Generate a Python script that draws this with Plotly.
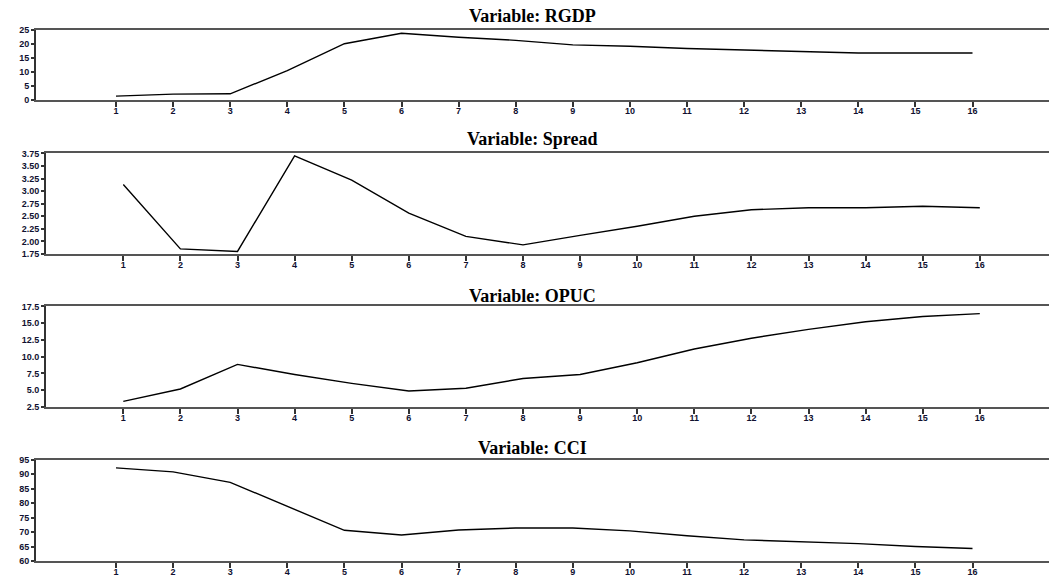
import plotly.graph_objects as go

steps = list(range(1, 17))

rgdp = [1.5, 2.2, 2.3, 10.5, 20.0, 23.7, 22.3, 21.2, 19.6, 19.1, 18.3, 17.7, 17.2, 16.7, 16.7, 16.7]
spread = [3.13, 1.85, 1.80, 3.70, 3.22, 2.56, 2.10, 1.93, 2.12, 2.30, 2.50, 2.63, 2.67, 2.67, 2.70, 2.67]
opuc = [3.34, 5.18, 8.85, 7.34, 6.02, 4.89, 5.29, 6.75, 7.34, 9.1, 11.15, 12.76, 14.08, 15.21, 15.99, 16.43]
cci = [92.2, 90.8, 87.2, 78.9, 70.6, 69.0, 70.7, 71.4, 71.4, 70.4, 68.7, 67.3, 66.7, 66.0, 65.0, 64.3]

titles = ["Variable: RGDP", "Variable: Spread", "Variable: OPUC", "Variable: CCI"]
series = [rgdp, spread, opuc, cci]

y_ranges = [[0, 25], [1.75, 3.75], [2.5, 17.5], [60, 95]]
y_dticks = [5, 0.25, 2.5, 5]
y_formats = ["d", ".2f", ".1f", "d"]

W, H = 1049, 582
# pixel geometry of panels (top, bottom, left)
panels = [(25, 97, 36), (151, 253.3, 46), (306.7, 409, 46), (462.7, 565.7, 36)]
title_y = [11, 136, 296, 451]
tick1_px = [116, 123.3, 123.3, 116]
spacing = 57.1

fig = go.Figure()
layout = dict(
    width=W, height=H, margin=dict(l=0, r=0, t=0, b=0),
    paper_bgcolor="white", plot_bgcolor="white", showlegend=False,
)

tickfont = dict(family="Liberation Sans", size=9, color="#101030", weight="bold")
annotations = []
for i, (vals, title) in enumerate(zip(series, titles)):
    n = "" if i == 0 else str(i + 1)
    top, bot, left = panels[i]
    fig.add_trace(go.Scatter(
        x=steps, y=vals, mode="lines",
        line=dict(color="black", width=1.4),
        xaxis="x" + n, yaxis="y" + n, hoverinfo="skip",
    ))
    xr0 = 1 - (tick1_px[i] - left) / spacing
    xr1 = 1 + (W - tick1_px[i]) / spacing
    layout["xaxis" + n] = dict(
        domain=[left / W, 1], anchor="y" + n, range=[xr0, xr1],
        tickmode="array", tickvals=steps, ticktext=[str(s) for s in steps],
        ticks="outside", ticklen=5, tickwidth=1.5, tickcolor="#333",
        ticklabelstandoff=-4,
        showline=True, linecolor="#555", linewidth=2, mirror=True,
        showgrid=False, zeroline=False, tickfont=tickfont,
    )
    layout["yaxis" + n] = dict(
        domain=[1 - bot / H, 1 - top / H], anchor="x" + n, range=y_ranges[i],
        dtick=y_dticks[i], tick0=y_ranges[i][0], tickformat=y_formats[i],
        ticks="outside", ticklen=3, tickwidth=1.5, tickcolor="#333",
        showline=True, linecolor="#333", linewidth=2,
        showgrid=False, zeroline=False, tickfont=tickfont,
    )
    annotations.append(dict(
        text="<b>" + title + "</b>", xref="paper", yref="paper",
        x=532 / W, y=1 - title_y[i] / H, xanchor="center", yanchor="middle",
        showarrow=False, font=dict(family="Liberation Serif", size=18, color="black"),
    ))

layout["annotations"] = annotations
fig.update_layout(**layout)
fig.write_html("out.html")
